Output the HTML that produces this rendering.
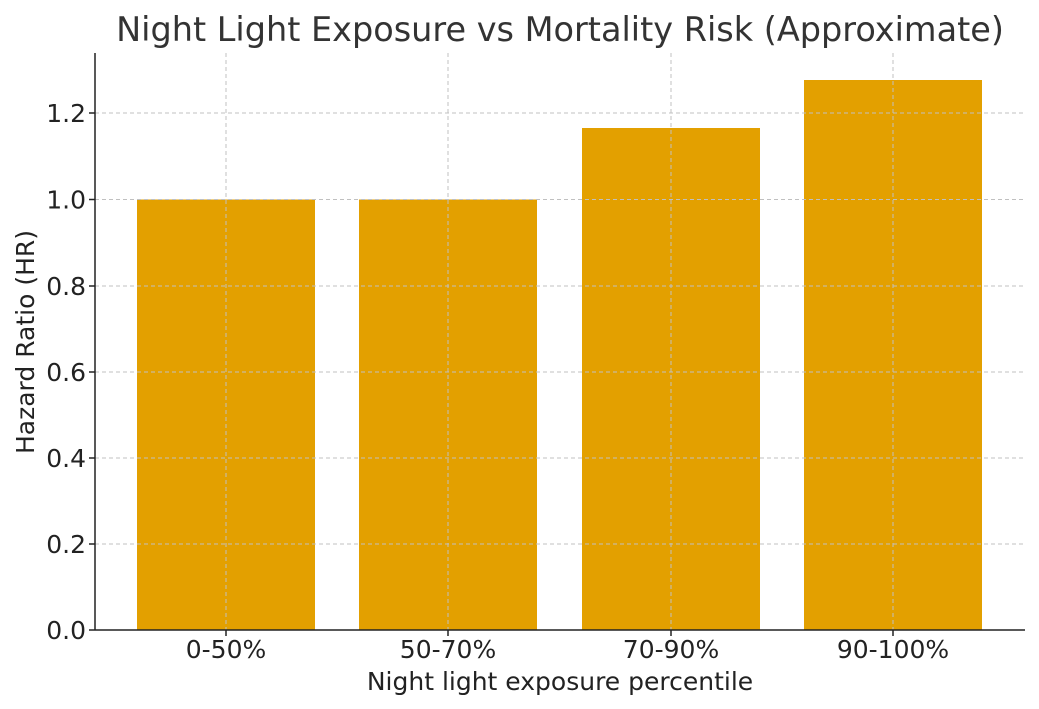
<!DOCTYPE html>
<html><head><meta charset="utf-8"><style>
html,body{margin:0;padding:0;background:#fff;}
svg{display:block;font-family:"DejaVu Sans","Liberation Sans",sans-serif;}
</style></head><body>
<svg width="1039" height="709" viewBox="0 0 1039 709" xmlns="http://www.w3.org/2000/svg">
<rect width="1039" height="709" fill="#fff"/>
<g fill="#E3A000">
<rect x="137" y="199.5" width="178" height="430.5"/>
<rect x="359" y="199.5" width="178" height="430.5"/>
<rect x="582" y="128" width="178" height="502"/>
<rect x="804" y="80" width="178" height="550"/>
</g>
<g stroke="#c0c0c0" stroke-width="1" stroke-dasharray="4,3">
<line x1="95" x2="1025" y1="544" y2="544"/>
<line x1="95" x2="1025" y1="458" y2="458"/>
<line x1="95" x2="1025" y1="372" y2="372"/>
<line x1="95" x2="1025" y1="286" y2="286"/>
<line x1="95" x2="1025" y1="199.5" y2="199.5"/>
<line x1="95" x2="1025" y1="113" y2="113"/>
<line x1="226" x2="226" y1="53" y2="630"/>
<line x1="448" x2="448" y1="53" y2="630"/>
<line x1="671" x2="671" y1="53" y2="630"/>
<line x1="893" x2="893" y1="53" y2="630"/>
</g>
<g stroke="#222" stroke-width="1.5">
<line x1="95" x2="95" y1="53" y2="630"/>
<line x1="95" x2="1025" y1="630" y2="630"/>
<line x1="89" x2="95" y1="630" y2="630"/>
<line x1="89" x2="95" y1="544" y2="544"/>
<line x1="89" x2="95" y1="458" y2="458"/>
<line x1="89" x2="95" y1="372" y2="372"/>
<line x1="89" x2="95" y1="286" y2="286"/>
<line x1="89" x2="95" y1="199.5" y2="199.5"/>
<line x1="89" x2="95" y1="113" y2="113"/>
<line x1="226" x2="226" y1="630" y2="636"/>
<line x1="448" x2="448" y1="630" y2="636"/>
<line x1="671" x2="671" y1="630" y2="636"/>
<line x1="893" x2="893" y1="630" y2="636"/>
</g>
<g fill="#222" font-size="25" text-anchor="end">
<text x="86" y="639">0.0</text>
<text x="86" y="553">0.2</text>
<text x="86" y="467">0.4</text>
<text x="86" y="381">0.6</text>
<text x="86" y="295">0.8</text>
<text x="86" y="208.5">1.0</text>
<text x="86" y="122">1.2</text>
</g>
<g fill="#222" font-size="25" text-anchor="middle">
<text x="226" y="658">0-50%</text>
<text x="448" y="658">50-70%</text>
<text x="671" y="658">70-90%</text>
<text x="893" y="658">90-100%</text>
<text x="560" y="690">Night light exposure percentile</text>
<text transform="translate(34,342) rotate(-90)">Hazard Ratio (HR)</text>
</g>
<text x="560" y="41" fill="#333" font-size="33.5" text-anchor="middle">Night Light Exposure vs Mortality Risk (Approximate)</text>
</svg>
</body></html>
